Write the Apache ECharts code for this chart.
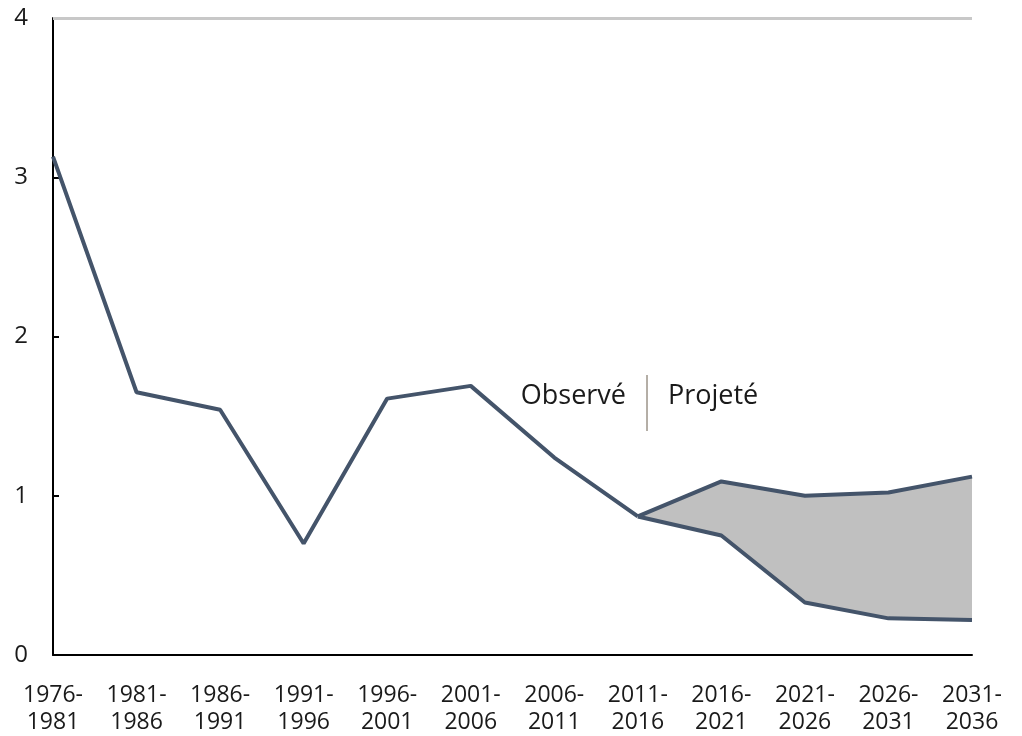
<!DOCTYPE html>
<html><head><meta charset="utf-8">
<script src="https://cdn.jsdelivr.net/npm/echarts@6/dist/echarts.min.js"></script>
<style>html,body{margin:0;padding:0;background:#fff}#c{width:1022px;height:736px}</style>
</head><body><div id="c"></div>
<script>
const categories = ['1976-\n1981','1981-\n1986','1986-\n1991','1991-\n1996','1996-\n2001','2001-\n2006','2006-\n2011','2011-\n2016','2016-\n2021','2021-\n2026','2026-\n2031','2031-\n2036'];
const observed = [3.13, 1.65, 1.54, 0.70, 1.61, 1.69, 1.24, 0.87, null, null, null, null];
const projHigh = [null, null, null, null, null, null, null, 0.87, 1.09, 1.00, 1.02, 1.12];
const projLow  = [null, null, null, null, null, null, null, 0.87, 0.75, 0.33, 0.23, 0.22];
const yTicks = [0, 1, 2, 3, 4];

const band = projHigh.map((v, i) => (v == null || projLow[i] == null) ? '-' : +(v - projLow[i]).toFixed(3));
const lowBase = projLow.map(v => v == null ? '-' : v);
const lineColor = '#44546A';
const font = "'Century Gothic','URW Gothic','Open Sans','DejaVu Sans',sans-serif";

const chart = echarts.init(document.getElementById('c'));
chart.setOption({
  animation: false,
  grid: { left: 53, right: 50, top: 18, bottom: 81, containLabel: false, outerBoundsMode: 'none' },
  xAxis: {
    type: 'category', data: categories, boundaryGap: false,
    axisLine: { lineStyle: { color: '#000', width: 2 } },
    axisTick: { show: false },
    axisLabel: { color: '#1a1a1a', fontSize: 23, fontFamily: font, margin: 27, lineHeight: 27, interval: 0 },
    splitLine: { show: false }
  },
  yAxis: {
    type: 'value', min: 0, max: 4, interval: 1,
    axisLine: { show: true, lineStyle: { color: '#000', width: 2 } },
    axisTick: { show: true, inside: true, length: 6, lineStyle: { color: '#000', width: 2 } },
    axisLabel: { color: '#1a1a1a', fontSize: 24, fontFamily: font, margin: 25, formatter: v => yTicks.includes(v) ? String(v) : '' },
    splitLine: { show: false }
  },
  series: [
    { type: 'line', data: lowBase, stack: 'band', symbol: 'none', lineStyle: { opacity: 0 }, silent: true, z: 1,
      markLine: { silent: true, symbol: 'none', label: { show: false },
        lineStyle: { color: '#c8c8c8', width: 3, type: 'solid' }, data: [{ yAxis: 4 }] } },
    { type: 'line', data: band, stack: 'band', symbol: 'none', lineStyle: { opacity: 0 }, areaStyle: { color: '#C0C0C0', opacity: 1 }, silent: true, z: 1 },
    { type: 'line', data: observed, symbol: 'none', lineStyle: { color: lineColor, width: 4 }, z: 3 },
    { type: 'line', data: projHigh, symbol: 'none', lineStyle: { color: lineColor, width: 4 }, z: 3 },
    { type: 'line', data: projLow, symbol: 'none', lineStyle: { color: lineColor, width: 4 }, z: 3 }
  ],
  graphic: [
    { type: 'text', right: 1022 - 626, top: 383, style: { text: 'Observé', fontSize: 27, fontFamily: font, fill: '#1a1a1a', textAlign: 'right' } },
    { type: 'line', shape: { x1: 647, y1: 375, x2: 647, y2: 431 }, style: { stroke: '#6b5f4f', lineWidth: 1 } },
    { type: 'text', left: 668, top: 383, style: { text: 'Projeté', fontSize: 27, fontFamily: font, fill: '#1a1a1a' } }
  ]
});
</script></body></html>
